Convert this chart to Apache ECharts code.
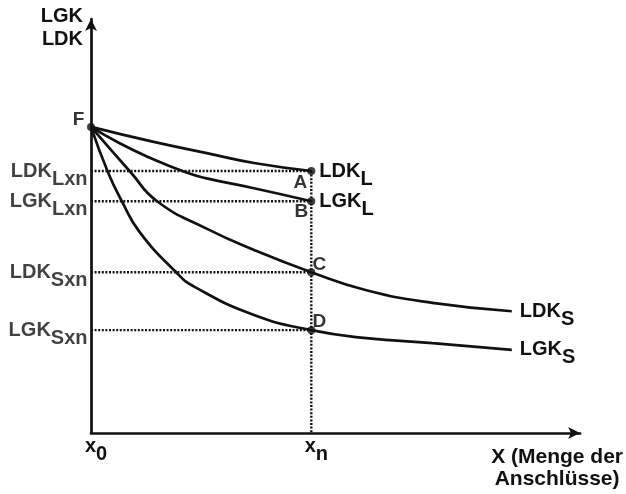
<!DOCTYPE html>
<html>
<head>
<meta charset="utf-8">
<script src="https://cdn.jsdelivr.net/npm/echarts@6/dist/echarts.min.js"></script>
<style>
    html, body { margin: 0; padding: 0; background: #fff; }
    #chart { width: 626px; height: 494px; }
</style>
</head>
<body>
<div id="chart"></div>
<script>
    // x: x0 = 0, xn = 10 ; y: arbitrary cost units
    var ldkL = [[0, 72.9], [2.7, 69.5], [5.2, 66.7], [7.4, 64.3], [10, 62.4]];
    var lgkL = [[0, 72.9], [1.3, 69.0], [2.7, 65.5], [4.3, 62.1], [5.2, 60.7], [7.4, 58.3], [10, 55.2]];
    var ldkS = [[0, 72.9], [1.8, 62.1], [3.0, 55.2], [5.2, 48.8], [7.4, 43.6], [10, 38.3], [12.5, 34.0], [15.5, 31.0], [19.1, 29.0]];
    var lgkS = [[0, 72.9], [0.77, 62.1], [1.4, 55.2], [2.2, 47.9], [3.9, 38.1], [4.7, 34.8], [7.4, 28.1], [10, 24.5], [12.5, 22.6], [15.5, 21.4], [19.1, 19.8]];

    var xn = 10;
    var levelF = 72.9;
    var levels = [62.4, 55.2, 38.3, 24.5];           // A, B, C, D
    var levelLabels = [['LDK', 'Lxn'], ['LGK', 'Lxn'], ['LDK', 'Sxn'], ['LGK', 'Sxn']];
    var pointNames = ['A', 'B', 'C', 'D'];
    var curveLabels = [['LDK', 'L'], ['LGK', 'L'], ['LDK', 'S'], ['LGK', 'S']];
    var xTickLabels = { 0: ['x', '0'], 10: ['x', 'n'] };

    var font = 'Liberation Sans';
    var ink = '#111';
    var rich = {
        m: { fontFamily: font, fontWeight: 'bold', fontSize: 20, lineHeight: 20, verticalAlign: 'top', color: ink },
        s: { fontFamily: font, fontWeight: 'bold', fontSize: 20, lineHeight: 36, color: ink }
    };
    function sub(pair) { return '{m|' + pair[0] + '}{s|' + pair[1] + '}'; }

    var chart = echarts.init(document.getElementById('chart'));

    var series = [];
    var dotted = { color: ink, width: 2.4, type: [2, 1.6] };

    // dotted guides
    levels.forEach(function (lv) {
        series.push({
            type: 'line', data: [[0, lv], [xn, lv]], symbol: 'none', silent: true, lineStyle: dotted
        });
    });
    series.push({
        type: 'line', data: [[xn, levels[0]], [xn, 0]], symbol: 'none', silent: true, lineStyle: dotted
    });

    // curves
    [ldkL, lgkL, ldkS, lgkS].forEach(function (d, i) {
        series.push({
            type: 'line', data: d, symbol: 'none', smooth: 0.5,
            lineStyle: { color: ink, width: 2.7 },
            endLabel: {
                show: true, distance: 8, offset: [0, 8], color: ink,
                formatter: sub(curveLabels[i]), rich: rich
            }
        });
    });

    // level labels on the y axis
    series.push({
        type: 'scatter', symbolSize: 1, itemStyle: { color: 'rgba(0,0,0,0)' },
        data: levels.map(function (lv, i) {
            return { value: [0, lv], label: { formatter: sub(levelLabels[i]) } };
        }),
        label: { show: true, position: 'left', distance: 3, offset: [0, 8], color: ink, rich: rich }
    });

    // points F, A, B, C, D
    var offs = [[-11, 11.5], [-10, 11], [8, -7.5], [8, -8.5]];
    var pts = [{ value: [0, levelF], label: { formatter: 'F', offset: [-12.5, -7] } }];
    levels.forEach(function (lv, i) {
        pts.push({ value: [xn, lv], label: { formatter: pointNames[i], offset: offs[i] } });
    });
    series.push({
        type: 'scatter', symbolSize: 8, itemStyle: { color: ink }, data: pts, z: 5,
        label: {
            show: true, position: 'inside', align: 'center', verticalAlign: 'middle',
            fontFamily: font, fontWeight: 'bold', fontSize: 19, color: '#000', textBorderWidth: 0
        }
    });

    var axisLine = {
        show: true, onZero: false, symbol: ['none', 'arrow'], symbolSize: [9, 12],
        lineStyle: { color: ink, width: 2.7 }
    };

    chart.setOption({
        animation: false,
        backgroundColor: '#fff',
        grid: { left: 91, top: 19, right: 44, bottom: 61 },
        xAxis: {
            type: 'value', min: 0, max: 22.2, interval: 10,
            axisLine: axisLine, axisTick: { show: false }, splitLine: { show: false },
            axisLabel: {
                margin: 3, showMaxLabel: false, padding: [0, 0, 0, 10], rich: rich,
                formatter: function (v) { return xTickLabels[v] ? sub(xTickLabels[v]) : ''; }
            },
            name: 'X (Menge der\nAnschlüsse)', nameLocation: 'end', nameGap: -23,
            nameTextStyle: {
                fontFamily: font, fontWeight: 'bold', fontSize: 21, lineHeight: 22, color: ink,
                align: 'center', verticalAlign: 'top', padding: [13, 0, 0, 0]
            }
        },
        yAxis: {
            type: 'value', min: 0, max: 98.6,
            axisLine: axisLine, axisTick: { show: false }, splitLine: { show: false },
            axisLabel: { show: false },
            name: 'LGK\nLDK', nameLocation: 'end', nameGap: 14,
            nameTextStyle: {
                fontFamily: font, fontWeight: 'bold', fontSize: 20, lineHeight: 23, color: ink,
                align: 'right', verticalAlign: 'top', padding: [0, 8, 0, 0]
            }
        },
        series: series
    });
</script>
</body>
</html>
